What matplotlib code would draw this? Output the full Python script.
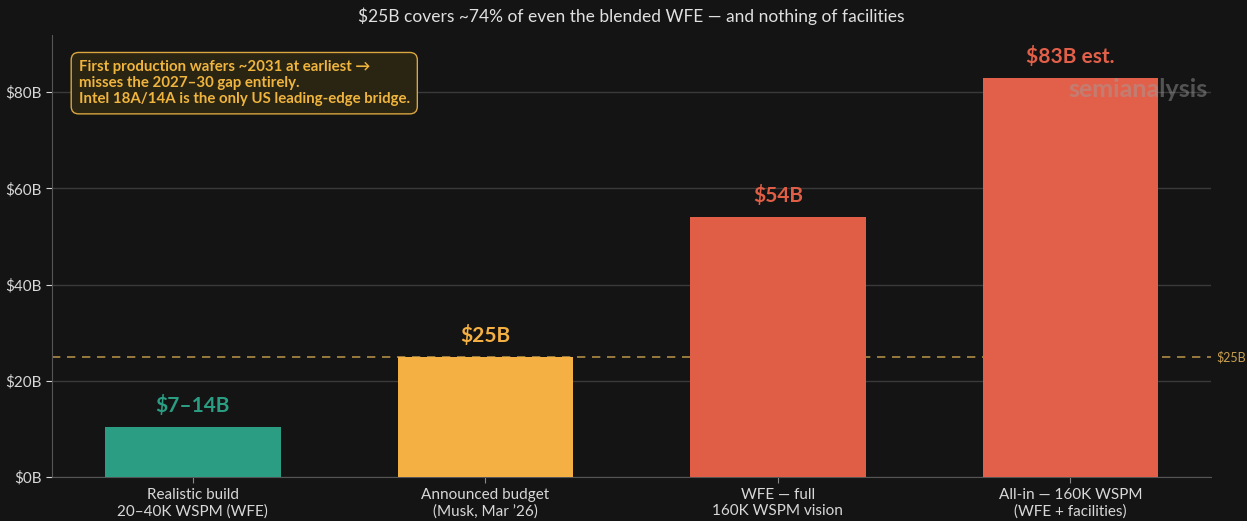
import numpy as np
import matplotlib.pyplot as plt

plt.rcParams['font.family'] = ['Lato', 'DejaVu Sans']

# data
categories = ['Realistic build\n20\u201340K WSPM (WFE)', 'Announced budget\n(Musk, Mar \u201926)',
              'WFE \u2014 full\n160K WSPM vision', 'All-in \u2014 160K WSPM\n(WFE + facilities)']
values = [10.5, 25, 54, 83]
value_labels = ['$7\u201314B', '$25B', '$54B', '$83B est.']
colors = ['#2a9d82', '#f4b042', '#df5e45', '#e2604a']
budget = 25
yticks = [0, 20, 40, 60, 80]

bg = '#141414'
fig = plt.figure(figsize=(12.47, 5.21), dpi=100, facecolor=bg)
ax = fig.add_axes([0.042, 0.084, 0.929, 0.848], facecolor=bg)

x = np.arange(len(categories))
ax.bar(x, values, width=0.6, color=colors, zorder=3)
for xi, v, lab, c in zip(x, values, value_labels, colors):
	ax.text(xi, v + 2.3, lab, ha='center', va='bottom', color=c, fontsize=15, fontweight='bold', zorder=4)

# budget line
ax.axhline(budget, color='#c9a04e', ls=(0, (5, 4)), lw=1.2, alpha=0.85, zorder=2)
ax.text(3.5, budget, '$25B', color='#c9a04e', fontsize=9, va='center', ha='left')

ax.set_xlim(-0.48, 3.48)
ax.set_ylim(0, 91.8)
ax.set_yticks(yticks)
ax.set_yticklabels(['$%dB' % t for t in yticks])
ax.set_xticks(x)
ax.set_xticklabels(categories)
ax.tick_params(colors='#d8d8d8', labelsize=11, length=4)
ax.tick_params(axis='x', colors='#888888', labelcolor='#d8d8d8')
ax.grid(axis='y', color='#3a3a3a', lw=1, zorder=0)
for s in ['top', 'right']:
	ax.spines[s].set_visible(False)
for s in ['left', 'bottom']:
	ax.spines[s].set_color('#555555')

ax.set_title('$25B covers ~74% of even the blended WFE \u2014 and nothing of facilities',
             color='#e0e0e0', fontsize=12.5, pad=10)

# note box
ax.text(-0.39, 86.7, 'First production wafers ~2031 at earliest \u2192\nmisses the 2027\u201330 gap entirely.\nIntel 18A/14A is the only US leading-edge bridge.',
        color='#f0b53e', fontsize=10.8, fontweight='bold', va='top', ha='left', linespacing=1.2, zorder=5,
        bbox=dict(boxstyle='round,pad=0.5,rounding_size=0.5', fc='#2a2412', ec='#d9a640', lw=1))

# watermark
ax.text(3.23, 80.5, 'semianalysis', color='#a0a0a0', alpha=0.45, fontsize=18, fontweight='bold',
        ha='center', va='center', zorder=6)

fig.savefig('out.png', dpi=100, facecolor=bg)
